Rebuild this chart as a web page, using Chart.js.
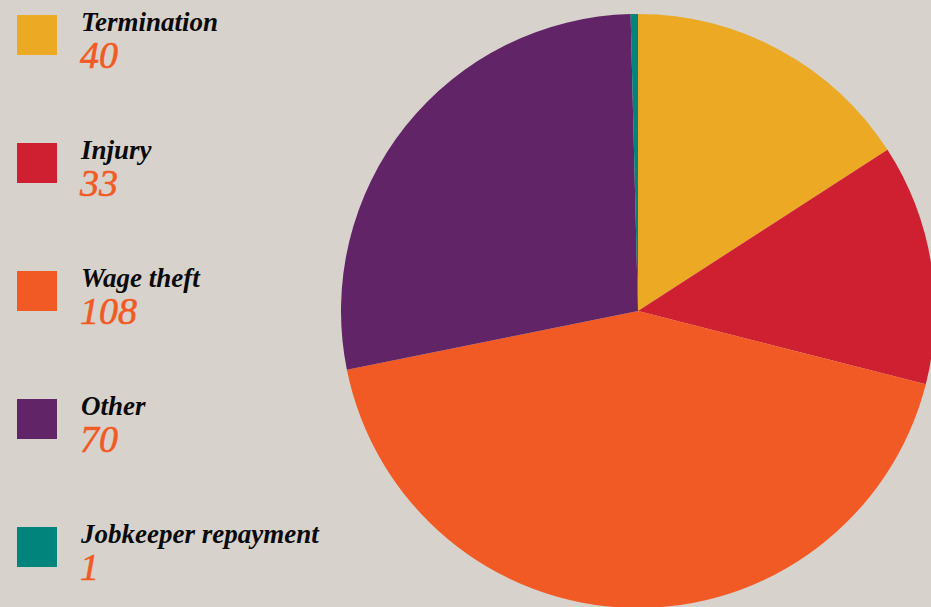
<!DOCTYPE html>
<html>
<head>
<meta charset="utf-8">
<script src="https://cdn.jsdelivr.net/npm/chart.js@4/dist/chart.umd.min.js"></script>
<style>
  html, body { margin: 0; padding: 0; width: 931px; height: 607px; overflow: hidden; background: #d7d2cc; }
  #pieWrap { position: absolute; left: 341px; top: 14px; width: 594px; height: 594px; }
  #legend { position: absolute; left: 0; top: 0; }
  .item { position: absolute; left: 0; width: 330px; height: 100px; }
  .swatch { position: absolute; left: 17px; top: 0; width: 40px; height: 40px; }
  .name { position: absolute; left: 81px; top: -6px; font: italic bold 27px/27px "Liberation Serif", "Times New Roman", serif; color: #0a0a0a; white-space: nowrap; }
  .val { position: absolute; left: 80px; top: 21px; font: italic 38px/38px "Liberation Serif", "Times New Roman", serif; color: #f15a24; white-space: nowrap; -webkit-text-stroke: 0.6px #f15a24; }
</style>
</head>
<body>
<div id="legend"></div>
<div id="pieWrap"><canvas id="pie" width="594" height="594"></canvas></div>
<script>
// Claims by type
const categories = ["Termination", "Injury", "Wage theft", "Other", "Jobkeeper repayment"];
const counts = [40, 33, 108, 70, 1];
const colours = ["#eca923", "#cf2031", "#f15a24", "#612466", "#00847c"];

// Legend: coloured square, name and count, stacked down the left side
const legend = document.getElementById("legend");
categories.forEach((name, i) => {
  const item = document.createElement("div");
  item.className = "item";
  item.style.top = (15 + i * 128) + "px";
  const sw = document.createElement("div");
  sw.className = "swatch";
  sw.style.background = colours[i];
  const nm = document.createElement("div");
  nm.className = "name";
  nm.textContent = name;
  const v = document.createElement("div");
  v.className = "val";
  v.textContent = String(counts[i]);
  item.appendChild(sw);
  item.appendChild(nm);
  item.appendChild(v);
  legend.appendChild(item);
});

new Chart(document.getElementById("pie"), {
  type: "pie",
  data: {
    labels: categories,
    datasets: [{
      data: counts,
      backgroundColor: colours,
      borderWidth: 0,
      hoverOffset: 0
    }]
  },
  options: {
    responsive: false,
    animation: false,
    layout: { padding: 0 },
    plugins: {
      legend: { display: false },
      tooltip: { enabled: false }
    }
  }
});
</script>
</body>
</html>
